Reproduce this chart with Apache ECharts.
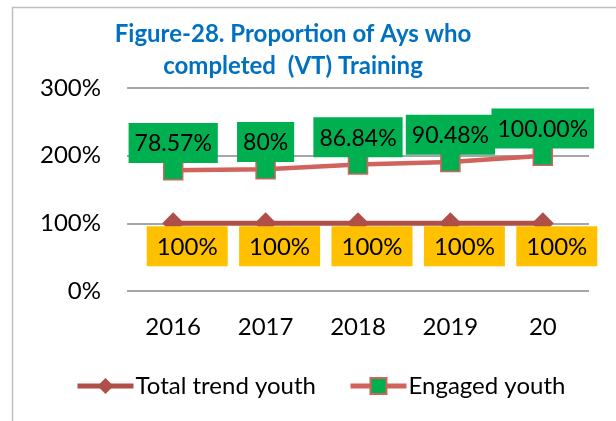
<!DOCTYPE html>
<html>
<head>
<meta charset="utf-8">
<script src="https://cdn.jsdelivr.net/npm/echarts@6/dist/echarts.min.js"></script>
<style>
  html, body { margin: 0; padding: 0; background: #fff; }
  #chart { width: 616px; height: 421px; }
</style>
</head>
<body>
<div id="chart"></div>
<script>
const years = ['2016', '2017', '2018', '2019', '20']
const totalValues = [100, 100, 100, 100, 100]
const engagedValues = [78.57, 80, 86.84, 90.48, 100]
const engagedLabels = ['78.57%', '80%', '86.84%', '90.48%', '100.00%']
const yTicks = [0, 100, 200, 300]

const FONT = 'Lato'

const chart = echarts.init(document.getElementById('chart'))
chart.setOption({
  animation: false,
  textStyle: { fontFamily: FONT },
  title: {
    text: 'Figure-28. Proportion of Ays who\ncompleted  (VT) Training',
    left: 288,
    top: 13,
    textAlign: 'center',
    textStyle: {
      color: '#0070C0',
      fontSize: 24,
      fontWeight: 'bold',
      fontFamily: FONT,
      lineHeight: 32
    }
  },
  graphic: [{
    type: 'rect',
    shape: { x: 12.5, y: 7.5, width: 700, height: 500 },
    style: { fill: 'none', stroke: '#BFBFBF', lineWidth: 1.5 },
    silent: true,
    z: -1
  }],
  legend: {
    left: 70,
    top: 369,
    itemWidth: 56,
    itemHeight: 20,
    itemGap: 32,
    lineStyle: { width: 5 },
    textStyle: { fontSize: 24, color: '#000', fontFamily: FONT, padding: [0, 0, 0, -3] },
    data: ['Total trend youth', 'Engaged youth']
  },
  grid: { left: 127, right: 27, top: 88, bottom: 130 },
  xAxis: {
    type: 'category',
    data: years,
    boundaryGap: true,
    axisLine: { show: false },
    axisTick: { show: false },
    axisLabel: { fontSize: 24, color: '#000', margin: 24, fontFamily: FONT }
  },
  yAxis: {
    type: 'value',
    min: yTicks[0],
    max: yTicks[yTicks.length - 1],
    interval: 100,
    axisLine: { show: false },
    axisTick: { show: false },
    axisLabel: { fontSize: 24, color: '#000', margin: 26, formatter: '{value}%', fontFamily: FONT },
    splitLine: { lineStyle: { color: '#A6A6A6', width: 2 } }
  },
  series: [
    {
      name: 'Total trend youth',
      type: 'line',
      stack: 'youth',
      data: totalValues,
      symbol: 'diamond',
      symbolSize: 22,
      itemStyle: { color: '#AE4F4A' },
      lineStyle: { color: '#AE4F4A', width: 5 },
      label: {
        show: true,
        position: 'bottom',
        offset: [14, -13],
        formatter: p => p.value + '%',
        backgroundColor: '#FFC000',
        lineHeight: 24,
        padding: [9, 10, 7, 10],
        color: '#000',
        fontSize: 24,
        fontFamily: FONT
      },
      z: 3
    },
    {
      name: 'Engaged youth',
      type: 'line',
      stack: 'youth',
      data: engagedValues,
      symbol: 'rect',
      symbolSize: 19,
      itemStyle: { color: '#00B050', borderColor: '#D0635C', borderWidth: 1.5 },
      lineStyle: { color: '#D0635C', width: 4.5 },
      label: {
        show: true,
        position: 'top',
        offset: [0, 8],
        formatter: p => engagedLabels[p.dataIndex],
        backgroundColor: '#00B050',
        lineHeight: 24,
        padding: [9, 6, 7, 6],
        color: '#000',
        fontSize: 23,
        fontFamily: FONT
      },
      z: 4
    }
  ]
})
</script>
</body>
</html>
